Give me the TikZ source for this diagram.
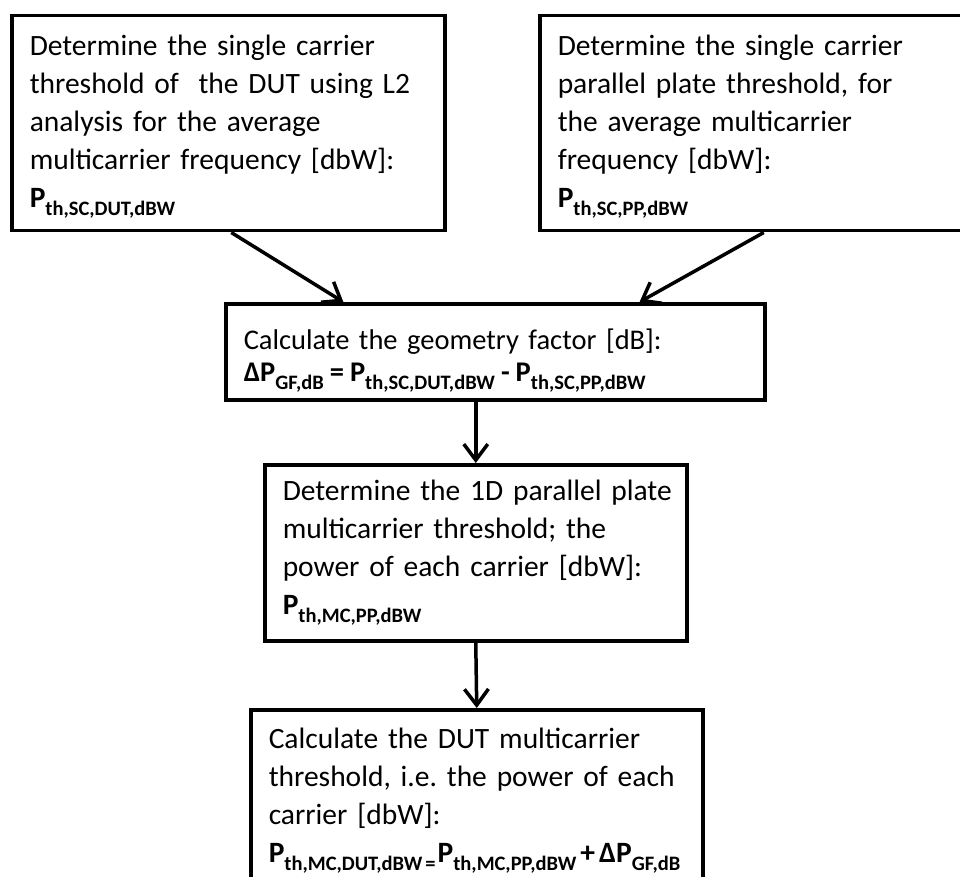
\documentclass[tikz,border=0pt]{standalone}
\usepackage{fontspec}
\setmainfont{Carlito}
\usetikzlibrary{arrows.meta,calc}

% bold subscript, set lower and smaller than the main symbol
\newcommand\lowsub[1]{\raisebox{-8pt}{\fontsize{20.5}{21}\selectfont\bfseries #1}}
\newcommand\Pq[1]{\textbf{P}\lowsub{#1}}
% one unbreakable line of a box text
\newcommand\row[1]{\mbox{#1}}

\tikzset{
  stepbox/.style={draw=black, line width=3.5pt, rectangle, anchor=north west,
    align=left, inner xsep=18pt, inner ysep=0pt, fill=white,
    font={\fontsize{29.5}{38}\selectfont\frenchspacing\spaceskip=0.19em\relax}},
  flowarrow/.style={line width=3.5pt, -{Straight Barb[length=16pt,width=24pt,line width=3.5pt]}}
}

\begin{document}
\begin{tikzpicture}[x=1pt,y=-1pt]
\useasboundingbox (0,0) rectangle (960,877);
\clip (0,0) rectangle (960,877);

\node[stepbox, minimum width=433, minimum height=215, text width=397] (b1) at (10,14)
  {\row{\rule{0pt}{28pt}Determine the single carrier}\\
   \row{threshold of~ the DUT using L2}\\
   \row{analysis for the average}\\
   \row{multicarrier frequency [dbW]:}\\
   \row{\Pq{th,SC,DUT,dBW}}};

\node[stepbox, minimum width=448, minimum height=215, text width=412] (b2) at (538,14)
  {\row{\rule{0pt}{28pt}Determine the single carrier}\\
   \row{parallel plate threshold, for}\\
   \row{the average multicarrier}\\
   \row{frequency [dbW]:}\\
   \row{\Pq{th,SC,PP,dBW}}};

\node[stepbox, minimum width=539, minimum height=96, text width=503,
      font={\fontsize{28.5}{32}\selectfont\frenchspacing\spaceskip=0.19em\relax}] (b3) at (224,302)
  {\row{\rule{0pt}{38pt}Calculate the geometry factor [dB]:}\\
   \row{\textbf{Δ}\Pq{GF,dB}\hspace{6pt}\textbf{=}\hspace{6pt}\Pq{th,SC,DUT,dBW}\hspace{6pt}\textbf{-}\hspace{6pt}\Pq{th,SC,PP,dBW}}};

\node[stepbox, minimum width=422, minimum height=176, text width=386] (b4) at (263,463)
  {\row{Determine the 1D parallel plate}\\
   \row{multicarrier threshold; the}\\
   \row{power of each carrier [dbW]:}\\
   \row{\Pq{th,MC,PP,dBW}}};

\node[stepbox, minimum width=452, minimum height=182, text width=416] (b5) at (249,708)
  {\row{Calculate the DUT multicarrier}\\
   \row{threshold, i.e. the power of each}\\
   \row{carrier [dbW]:}\\
   \row{\Pq{th,MC,DUT,dBW\hspace{3pt}=}\hspace{2pt}\Pq{th,MC,PP,dBW}\hspace{4pt}\textbf{+}\hspace{4pt}\textbf{Δ}\Pq{GF,dB}}};

\draw[flowarrow] ($(b1.south)+(3,0)$) -- ($(b3.north west)!0.22!(b3.north east)$);
\draw[flowarrow] (b2.south) -- ($(b3.north west)!0.766!(b3.north east)$);
\draw[flowarrow] (b3.south -| b4.north) -- (b4.north);
\draw[flowarrow] (b4.south) -- (b5.north);
\end{tikzpicture}
\end{document}
